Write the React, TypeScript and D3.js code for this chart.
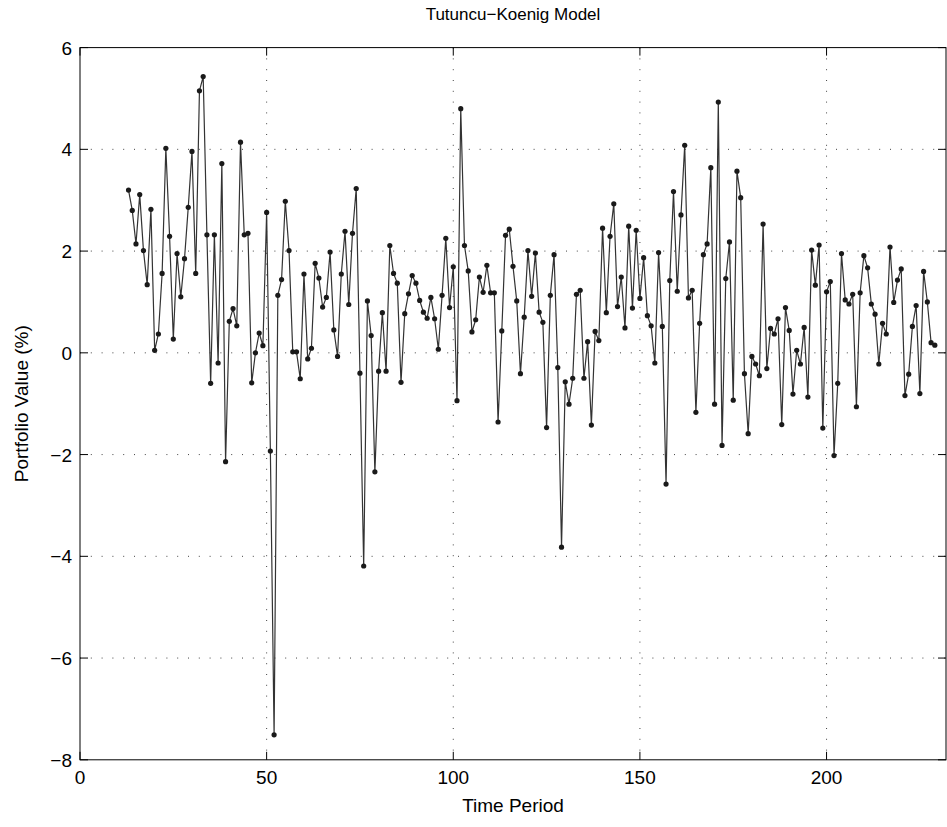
import React from "react";
import * as d3 from "d3";

const startPeriod = 13;
const portfolioValues: number[] = [
  3.20, 2.80, 2.14, 3.11, 2.01, 1.34, 2.82, 0.05, 0.37, 1.56,
  4.02, 2.29, 0.27, 1.95, 1.10, 1.85, 2.86, 3.96, 1.56, 5.15,
  5.43, 2.32, -0.60, 2.32, -0.20, 3.72, -2.14, 0.62, 0.87, 0.53,
  4.14, 2.32, 2.35, -0.59, 0.00, 0.39, 0.14, 2.76, -1.93, -7.51,
  1.13, 1.44, 2.98, 2.01, 0.02, 0.02, -0.51, 1.55, -0.12, 0.09,
  1.76, 1.47, 0.90, 1.09, 1.98, 0.45, -0.07, 1.55, 2.39, 0.95,
  2.35, 3.23, -0.40, -4.19, 1.02, 0.34, -2.34, -0.36, 0.79, -0.36,
  2.11, 1.56, 1.37, -0.58, 0.77, 1.16, 1.52, 1.37, 1.03, 0.80,
  0.68, 1.09, 0.67, 0.07, 1.13, 2.25, 0.89, 1.69, -0.94, 4.80,
  2.11, 1.61, 0.41, 0.65, 1.49, 1.19, 1.72, 1.18, 1.18, -1.36,
  0.43, 2.31, 2.43, 1.70, 1.02, -0.41, 0.70, 2.01, 1.11, 1.96,
  0.80, 0.60, -1.47, 1.13, 1.93, -0.29, -3.82, -0.57, -1.01, -0.50,
  1.15, 1.23, -0.50, 0.22, -1.42, 0.42, 0.24, 2.45, 0.79, 2.29,
  2.93, 0.91, 1.49, 0.49, 2.49, 0.88, 2.41, 1.07, 1.87, 0.73,
  0.53, -0.20, 1.97, 0.52, -2.58, 1.42, 3.17, 1.21, 2.71, 4.08,
  1.08, 1.23, -1.17, 0.58, 1.93, 2.14, 3.64, -1.01, 4.93, -1.82,
  1.46, 2.18, -0.93, 3.57, 3.05, -0.41, -1.59, -0.07, -0.22, -0.45,
  2.53, -0.31, 0.48, 0.37, 0.67, -1.41, 0.89, 0.44, -0.81, 0.05,
  -0.22, 0.50, -0.87, 2.02, 1.33, 2.12, -1.48, 1.20, 1.40, -2.02,
  -0.60, 1.95, 1.04, 0.96, 1.15, -1.06, 1.18, 1.91, 1.67, 0.96,
  0.76, -0.22, 0.58, 0.37, 2.08, 0.99, 1.43, 1.65, -0.84, -0.42,
  0.52, 0.93, -0.80, 1.60, 1.00, 0.20, 0.15,
];
const xTicks = [0, 50, 100, 150, 200];
const yTicks = [-8, -6, -4, -2, 0, 2, 4, 6];
const titleText = "Tutuncu\u2212Koenig Model";
const xLabel = "Time Period";
const yLabel = "Portfolio Value (%)";

export default function App() {
  const W = 947, H = 827;
  const left = 80, right = 946, top = 47.6, bottom = 759.8;
  const x = d3.scaleLinear().domain([0, 232]).range([left, right]);
  const y = d3.scaleLinear().domain([-8, 6]).range([bottom, top]);
  const pts = portfolioValues.map((v, i) => ({ t: startPeriod + i, v }));
  const line = d3.line<{ t: number; v: number }>().x(d => x(d.t)).y(d => y(d.v));
  const font = "'Liberation Sans', Arial, Helvetica, sans-serif";
  const tl = 8;
  return (
    <svg width={W} height={H} style={{ position: "absolute", left: 0, top: 0, background: "#fff" }} fontFamily={font}>
      <rect x={0} y={0} width={W} height={H} fill="#fff" />
      {xTicks.filter(t => t > 0).map(t => (
        <line key={"gx" + t} x1={x(t)} x2={x(t)} y1={top} y2={bottom} stroke="#444" strokeWidth={1} strokeDasharray="1 9.8" />
      ))}
      {yTicks.filter(t => t > -8 && t < 6).map(t => (
        <line key={"gy" + t} x1={left} x2={right} y1={y(t)} y2={y(t)} stroke="#444" strokeWidth={1} strokeDasharray="1 9.8" />
      ))}
      <rect x={left} y={top} width={right - left} height={bottom - top} fill="none" stroke="#000" strokeWidth={1} />
      {xTicks.map(t => (
        <g key={"tx" + t}>
          <line x1={x(t)} x2={x(t)} y1={bottom} y2={bottom - tl} stroke="#000" />
          <line x1={x(t)} x2={x(t)} y1={top} y2={top + tl} stroke="#000" />
          <text x={x(t)} y={bottom + 24} textAnchor="middle" fontSize={19}>{t}</text>
        </g>
      ))}
      {yTicks.map(t => (
        <g key={"ty" + t}>
          <line x1={left} x2={left + tl} y1={y(t)} y2={y(t)} stroke="#000" />
          <line x1={right} x2={right - tl} y1={y(t)} y2={y(t)} stroke="#000" />
          <text x={left - 8} y={y(t) + 7} textAnchor="end" fontSize={19}>{t < 0 ? "\u2212" + Math.abs(t) : t}</text>
        </g>
      ))}
      <path d={line(pts) || ""} fill="none" stroke="#333" strokeWidth={1.2} />
      {pts.map((d, i) => (
        <circle key={i} cx={x(d.t)} cy={y(d.v)} r={2.6} fill="#1a1a1a" />
      ))}
      <text x={(left + right) / 2} y={20} textAnchor="middle" fontSize={17}>{titleText}</text>
      <text x={(left + right) / 2} y={812} textAnchor="middle" fontSize={19}>{xLabel}</text>
      <text transform={`translate(28,${(top + bottom) / 2}) rotate(-90)`} textAnchor="middle" fontSize={19}>{yLabel}</text>
    </svg>
  );
}
